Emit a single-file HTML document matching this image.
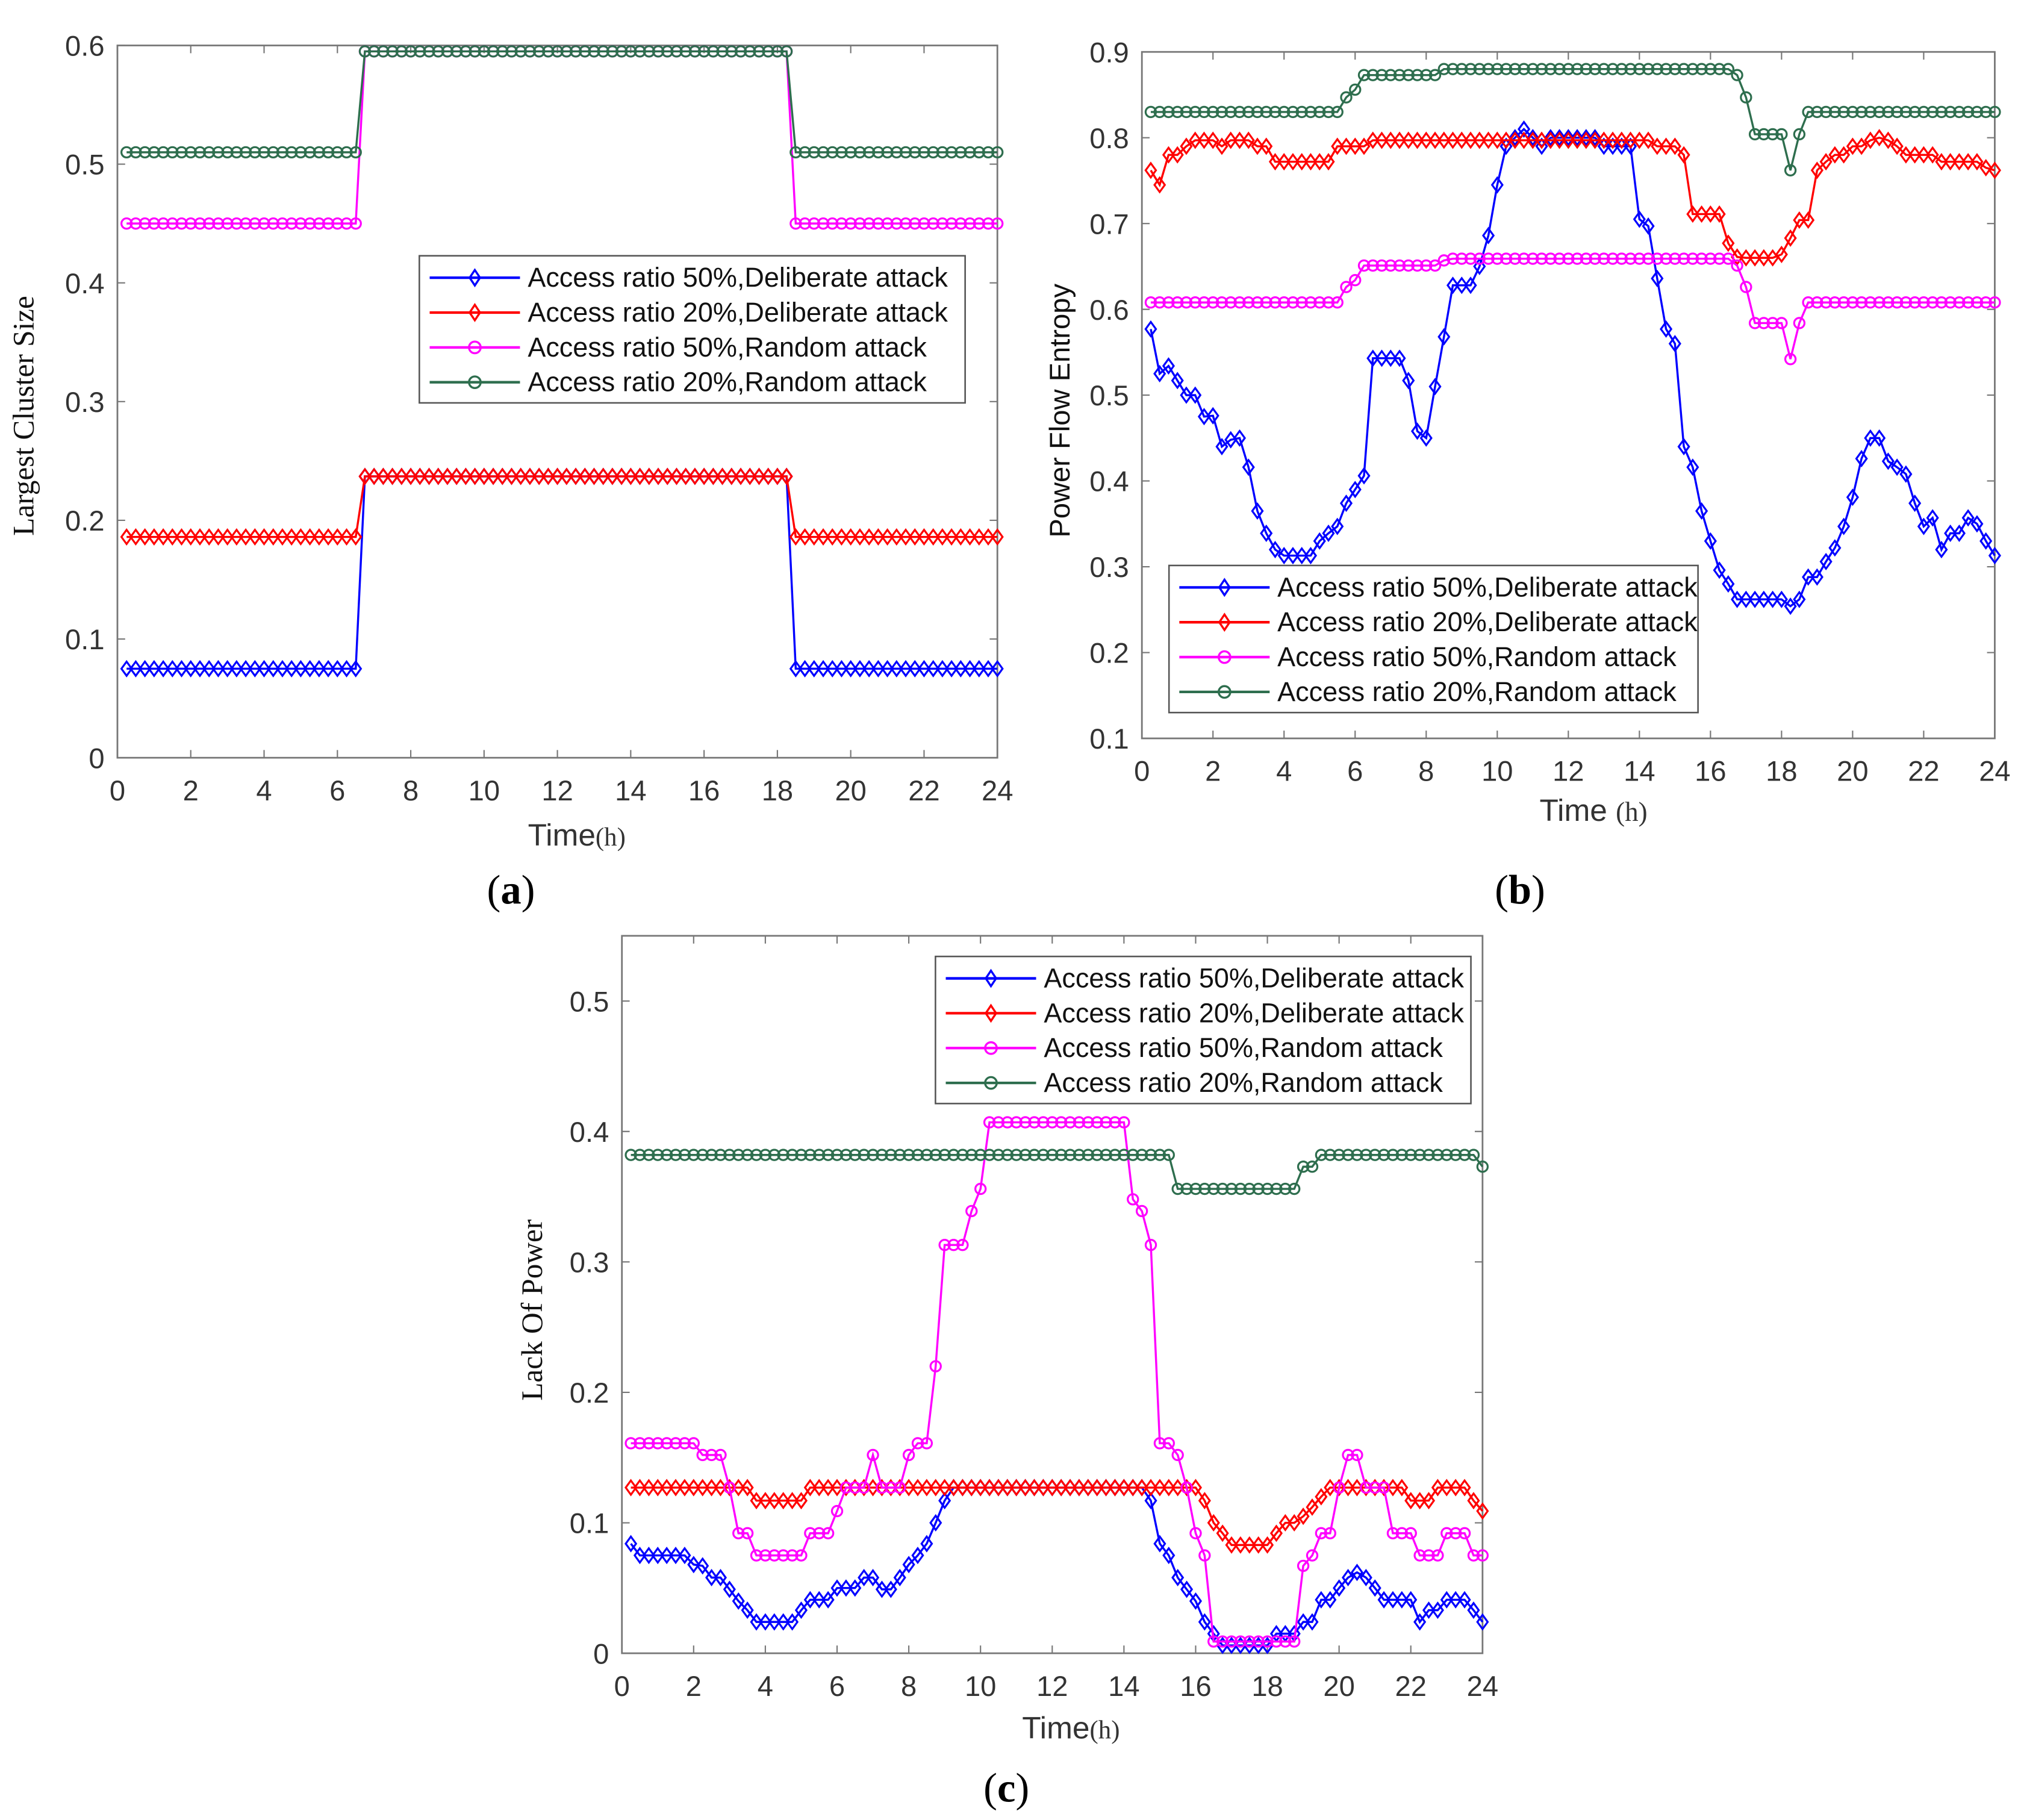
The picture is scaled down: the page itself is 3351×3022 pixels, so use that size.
<!DOCTYPE html>
<html><head><meta charset="utf-8"><style>
html,body{margin:0;padding:0;background:#fff;}
svg{display:block;}
.tk{font-family:"Liberation Sans",sans-serif;font-size:22px;fill:#333;}
.lg{font-family:"Liberation Sans",sans-serif;font-size:21px;fill:#111;}
.sf{font-family:"Liberation Serif",serif;}
</style></head><body>
<svg id="fig" width="3351" height="3022" viewBox="0 0 1564 1410" xmlns="http://www.w3.org/2000/svg">
<rect x="0" y="0" width="1564" height="1410" fill="#fff"/>
</svg>
<script>
// time axis
const times=[];for(let i=1;i<=96;i++)times.push(i*0.25);
const xTicks=[0,2,4,6,8,10,12,14,16,18,20,22,24];
const yTicksA=[0,0.1,0.2,0.3,0.4,0.5,0.6];
const yTicksB=[0.1,0.2,0.3,0.4,0.5,0.6,0.7,0.8,0.9];
const yTicksC=[0,0.1,0.2,0.3,0.4,0.5];
const seriesNames=["Access ratio 50%,Deliberate attack","Access ratio 20%,Deliberate attack","Access ratio 50%,Random attack","Access ratio 20%,Random attack"];

// Panel (a)
const a50Del=[.075,.075,.075,.075,.075,.075,.075,.075,.075,.075,.075,.075,.075,.075,.075,.075,.075,.075,.075,.075,.075,.075,.075,.075,.075,.075,
.237,.237,.237,.237,.237,.237,.237,.237,.237,.237,.237,.237,.237,.237,.237,.237,.237,.237,.237,.237,.237,.237,.237,.237,.237,.237,.237,.237,.237,.237,.237,.237,.237,.237,.237,.237,.237,.237,.237,.237,.237,.237,.237,.237,.237,.237,.237,
.075,.075,.075,.075,.075,.075,.075,.075,.075,.075,.075,.075,.075,.075,.075,.075,.075,.075,.075,.075,.075,.075,.075];
const a20Del=[.186,.186,.186,.186,.186,.186,.186,.186,.186,.186,.186,.186,.186,.186,.186,.186,.186,.186,.186,.186,.186,.186,.186,.186,.186,.186,
.237,.237,.237,.237,.237,.237,.237,.237,.237,.237,.237,.237,.237,.237,.237,.237,.237,.237,.237,.237,.237,.237,.237,.237,.237,.237,.237,.237,.237,.237,.237,.237,.237,.237,.237,.237,.237,.237,.237,.237,.237,.237,.237,.237,.237,.237,.237,
.186,.186,.186,.186,.186,.186,.186,.186,.186,.186,.186,.186,.186,.186,.186,.186,.186,.186,.186,.186,.186,.186,.186];
const a50Rnd=[.45,.45,.45,.45,.45,.45,.45,.45,.45,.45,.45,.45,.45,.45,.45,.45,.45,.45,.45,.45,.45,.45,.45,.45,.45,.45,
.595,.595,.595,.595,.595,.595,.595,.595,.595,.595,.595,.595,.595,.595,.595,.595,.595,.595,.595,.595,.595,.595,.595,.595,.595,.595,.595,.595,.595,.595,.595,.595,.595,.595,.595,.595,.595,.595,.595,.595,.595,.595,.595,.595,.595,.595,.595,
.45,.45,.45,.45,.45,.45,.45,.45,.45,.45,.45,.45,.45,.45,.45,.45,.45,.45,.45,.45,.45,.45,.45];
const a20Rnd=[.51,.51,.51,.51,.51,.51,.51,.51,.51,.51,.51,.51,.51,.51,.51,.51,.51,.51,.51,.51,.51,.51,.51,.51,.51,.51,
.595,.595,.595,.595,.595,.595,.595,.595,.595,.595,.595,.595,.595,.595,.595,.595,.595,.595,.595,.595,.595,.595,.595,.595,.595,.595,.595,.595,.595,.595,.595,.595,.595,.595,.595,.595,.595,.595,.595,.595,.595,.595,.595,.595,.595,.595,.595,
.51,.51,.51,.51,.51,.51,.51,.51,.51,.51,.51,.51,.51,.51,.51,.51,.51,.51,.51,.51,.51,.51,.51];

// Panel (b)
const b50Del=[.577,.525,.534,.517,.50,.50,.475,.476, .44,.448,.45,.416,.365,.339,.32,.313,
.313,.313,.313,.33,.339,.347,.374,.39, .406,.543,.543,.543,.543,.517,.458,.45,
.51,.568,.628,.628,.628,.65,.686,.745, .79,.80,.81,.80,.79,.80,.80,.80,
.80,.80,.80,.79,.79,.79,.79,.705, .697,.636,.577,.56,.44,.416,.365,.33,
.296,.28,.262,.262,.262,.262,.262,.262, .254,.262,.288,.288,.306,.322,.347,.381,
.426,.45,.45,.423,.416,.408,.374,.347, .357,.32,.339,.339,.357,.35,.33,.313];
const b20Del=[.762,.745,.78,.78,.79,.797,.797,.797, .79,.797,.797,.797,.79,.79,.772,.772,
.772,.772,.772,.772,.772,.79,.79,.79, .79,.797,.797,.797,.797,.797,.797,.797,
.797,.797,.797,.797,.797,.797,.797,.797, .797,.797,.797,.797,.797,.797,.797,.797,
.797,.797,.797,.797,.797,.797,.797,.797, .797,.79,.79,.79,.78,.711,.711,.711,
.711,.677,.661,.66,.66,.66,.66,.664, .683,.704,.704,.762,.772,.78,.78,.79,
.79,.797,.80,.797,.79,.78,.78,.78, .78,.772,.772,.772,.772,.772,.765,.762];
const b50Rnd=[.608,.608,.608,.608,.608,.608,.608,.608, .608,.608,.608,.608,.608,.608,.608,.608,
.608,.608,.608,.608,.608,.608,.626,.634, .651,.651,.651,.651,.651,.651,.651,.651,
.651,.657,.659,.659,.659,.659,.659,.659, .659,.659,.659,.659,.659,.659,.659,.659,
.659,.659,.659,.659,.659,.659,.659,.659, .659,.659,.659,.659,.659,.659,.659,.659,
.659,.659,.651,.626,.584,.584,.584,.584, .542,.584,.608,.608,.608,.608,.608,.608,
.608,.608,.608,.608,.608,.608,.608,.608, .608,.608,.608,.608,.608,.608,.608,.608];
const b20Rnd=[.83,.83,.83,.83,.83,.83,.83,.83, .83,.83,.83,.83,.83,.83,.83,.83,
.83,.83,.83,.83,.83,.83,.847,.856, .873,.873,.873,.873,.873,.873,.873,.873,
.873,.88,.88,.88,.88,.88,.88,.88, .88,.88,.88,.88,.88,.88,.88,.88,
.88,.88,.88,.88,.88,.88,.88,.88, .88,.88,.88,.88,.88,.88,.88,.88,
.88,.88,.873,.847,.804,.804,.804,.804, .762,.804,.83,.83,.83,.83,.83,.83,
.83,.83,.83,.83,.83,.83,.83,.83, .83,.83,.83,.83,.83,.83,.83,.83];

// Panel (c)
const c50Del=[.084,.075,.075,.075,.075,.075,.075,.068, .067,.058,.058,.049,.040,.033,.024,.024,
.024,.024,.024,.033,.041,.041,.041,.050, .050,.050,.058,.058,.049,.049,.058,.068,
.075,.084,.10,.117,.127,.127,.127,.127, .127,.127,.127,.127,.127,.127,.127,.127,
.127,.127,.127,.127,.127,.127,.127,.127, .127,.127,.117,.084,.075,.058,.049,.040,
.024,.015,.006,.006,.006,.006,.006,.006, .015,.015,.015,.024,.024,.041,.041,.050,
.058,.062,.058,.050,.041,.041,.041,.041, .024,.033,.033,.041,.041,.041,.033,.024];
const c20Del=[.127,.127,.127,.127,.127,.127,.127,.127, .127,.127,.127,.127,.127,.127,.117,.117,
.117,.117,.117,.117,.127,.127,.127,.127, .127,.127,.127,.127,.127,.127,.127,.127,
.127,.127,.127,.127,.127,.127,.127,.127, .127,.127,.127,.127,.127,.127,.127,.127,
.127,.127,.127,.127,.127,.127,.127,.127, .127,.127,.127,.127,.127,.127,.127,.127,
.117,.10,.092,.083,.083,.083,.083,.083, .092,.10,.10,.105,.112,.12,.127,.127,
.127,.127,.127,.127,.127,.127,.127,.117, .117,.117,.127,.127,.127,.127,.117,.109];
const c50Rnd=[.161,.161,.161,.161,.161,.161,.161,.161, .152,.152,.152,.127,.092,.092,.075,.075,
.075,.075,.075,.075,.092,.092,.092,.109, .127,.127,.127,.152,.127,.127,.127,.152,
.161,.161,.22,.313,.313,.313,.339,.356, .407,.407,.407,.407,.407,.407,.407,.407,
.407,.407,.407,.407,.407,.407,.407,.407, .348,.339,.313,.161,.161,.152,.127,.092,
.075,.009,.009,.009,.009,.009,.009,.009, .009,.009,.009,.067,.075,.092,.092,.127,
.152,.152,.127,.127,.127,.092,.092,.092, .075,.075,.075,.092,.092,.092,.075,.075];
const c20Rnd=[.382,.382,.382,.382,.382,.382,.382,.382, .382,.382,.382,.382,.382,.382,.382,.382,
.382,.382,.382,.382,.382,.382,.382,.382, .382,.382,.382,.382,.382,.382,.382,.382,
.382,.382,.382,.382,.382,.382,.382,.382, .382,.382,.382,.382,.382,.382,.382,.382,
.382,.382,.382,.382,.382,.382,.382,.382, .382,.382,.382,.382,.382,.356,.356,.356,
.356,.356,.356,.356,.356,.356,.356,.356, .356,.356,.356,.373,.373,.382,.382,.382,
.382,.382,.382,.382,.382,.382,.382,.382, .382,.382,.382,.382,.382,.382,.382,.373];

const NS="http://www.w3.org/2000/svg";
const svg=document.getElementById('fig');
const colors=["#0000ff","#ff0000","#ff00ff","#2e6e4e"];
const shapes=["d","d","o","o"];
function mk(tag,parent){const e=document.createElementNS(NS,tag);parent.appendChild(e);return e;}

function panel(cfg){
  const g=mk('g',svg);
  
  
  const L=cfg.x0,R=cfg.x1,T=cfg.y0,B=cfg.y1;
  const sx=t=>L+(t-0)/24*(R-L);
  const sy=v=>B-(v-cfg.ymin)/(cfg.ymax-cfg.ymin)*(B-T);
  const box=mk('rect',g);
  box.setAttribute('x',L);box.setAttribute('y',T);box.setAttribute('width',R-L);box.setAttribute('height',B-T);
  box.setAttribute('fill','none');box.setAttribute('stroke','#777');box.setAttribute('stroke-width','1.3');
  
  
  xTicks.forEach(t=>{
    const x=sx(t);
    const l=mk('path',g);
    l.setAttribute('d',`M${x},${B}V${B-6}M${x},${T}V${T+6}`);
    l.setAttribute('stroke','#777');l.setAttribute('stroke-width','1');
    
    
    const tx=mk('text',g);
    tx.setAttribute('x',x);tx.setAttribute('y',B+33);tx.setAttribute('text-anchor','middle');tx.setAttribute('class','tk');
    tx.textContent=t;
    
    
  });
  cfg.yticks.forEach(v=>{
    const y=sy(v);
    const l=mk('path',g);
    l.setAttribute('d',`M${L},${y}H${L+6}M${R},${y}H${R-6}`);
    l.setAttribute('stroke','#777');l.setAttribute('stroke-width','1');
    
    
    const tx=mk('text',g);
    tx.setAttribute('x',L-10);tx.setAttribute('y',y+8);tx.setAttribute('text-anchor','end');tx.setAttribute('class','tk');
    tx.textContent=String(v);
    
    
  });
  cfg.series.forEach((vals,si)=>{
    const sg=mk('g',g);
    
    
    const pl=mk('polyline',sg);
    pl.setAttribute('points',vals.map((v,i)=>sx(times[i])+','+sy(v)).join(' '));
    pl.setAttribute('fill','none');pl.setAttribute('stroke',colors[si]);pl.setAttribute('stroke-width','1.6');
    
    
    vals.forEach((v,i)=>{
      const x=sx(times[i]),y=sy(v);
      let m;
      if(shapes[si]==='d'){m=mk('path',sg);m.setAttribute('d',`M${x},${y-5.5}L${x+4},${y}L${x},${y+5.5}L${x-4},${y}Z`);}
      else{m=mk('circle',sg);m.setAttribute('cx',x);m.setAttribute('cy',y);m.setAttribute('r',4);}
      m.setAttribute('fill','none');m.setAttribute('stroke',colors[si]);m.setAttribute('stroke-width','1.5');
      
      
    });
  });
  // legend
  const lg=mk('g',g);
  
  
  const lb=mk('rect',lg);
  lb.setAttribute('x',cfg.lx);lb.setAttribute('y',cfg.ly);lb.setAttribute('width',cfg.lw);lb.setAttribute('height',114);
  lb.setAttribute('fill','#fff');lb.setAttribute('stroke','#555');lb.setAttribute('stroke-width','1.2');
  
  
  seriesNames.forEach((n,si)=>{
    const y=cfg.ly+17+si*27;
    const eg=mk('g',lg);
    
    
    const ln=mk('path',eg);
    ln.setAttribute('d',`M${cfg.lx+8},${y}H${cfg.lx+78}`);ln.setAttribute('stroke',colors[si]);ln.setAttribute('stroke-width','2');
    const cx=cfg.lx+43;let m;
    if(shapes[si]==='d'){m=mk('path',eg);m.setAttribute('d',`M${cx},${y-6}L${cx+4},${y}L${cx},${y+6}L${cx-4},${y}Z`);}
    else{m=mk('circle',eg);m.setAttribute('cx',cx);m.setAttribute('cy',y);m.setAttribute('r',4.5);}
    m.setAttribute('fill','none');m.setAttribute('stroke',colors[si]);m.setAttribute('stroke-width','1.6');
    const t=mk('text',eg);
    t.setAttribute('x',cfg.lx+84);t.setAttribute('y',y+7);t.setAttribute('class','lg');
    t.textContent=n;
  });
  return g;
}

panel({name:'chart-a',x0:91,x1:773,y0:35,y1:587,ymin:0,ymax:0.6,yticks:yTicksA,series:[a50Del,a20Del,a50Rnd,a20Rnd],lx:325,ly:198,lw:423});
panel({name:'chart-b',x0:885,x1:1546,y0:40,y1:572,ymin:0.1,ymax:0.9,yticks:yTicksB,series:[b50Del,b20Del,b50Rnd,b20Rnd],lx:906,ly:438,lw:410});
panel({name:'chart-c',x0:482,x1:1149,y0:725,y1:1281,ymin:0,ymax:0.55,yticks:yTicksC,series:[c50Del,c20Del,c50Rnd,c20Rnd],lx:725,ly:741,lw:415});

function txt(x,y,str,cls,name,extra){
  const t=mk('text',svg);
  t.setAttribute('x',x);t.setAttribute('y',y);t.setAttribute('class',cls);
  if(extra)for(const k in extra)t.setAttribute(k,extra[k]);
  t.innerHTML=str;
  return t;
}
let t;
t=txt(447,655,'Time<tspan class="sf" style="font-size:20px">(h)</tspan>','tk','',{'text-anchor':'middle','style':'font-size:24px'});


t=txt(1235,636,'Time <tspan class="sf" style="font-size:21px">(h)</tspan>','tk','',{'text-anchor':'middle','style':'font-size:24px'});


t=txt(830,1347,'Time<tspan class="sf" style="font-size:20px">(h)</tspan>','tk','',{'text-anchor':'middle','style':'font-size:24px'});


t=txt(26,322,'Largest Cluster Size','sf','',{'text-anchor':'middle','transform':'rotate(-90 26 322)','style':'font-size:23px;fill:#111'});


t=txt(829,318,'Power Flow Entropy','tk','',{'text-anchor':'middle','transform':'rotate(-90 829 318)','style':'font-size:22px;fill:#111'});


t=txt(420,1015,'Lack Of Power','sf','',{'text-anchor':'middle','transform':'rotate(-90 420 1015)','style':'font-size:23px;fill:#111'});


t=txt(396,700,'(<tspan font-weight="bold">a</tspan>)','sf','',{'text-anchor':'middle','style':'font-size:32px;fill:#000'});


t=txt(1178,700,'(<tspan font-weight="bold">b</tspan>)','sf','',{'text-anchor':'middle','style':'font-size:32px;fill:#000'});


t=txt(780,1396,'(<tspan font-weight="bold">c</tspan>)','sf','',{'text-anchor':'middle','style':'font-size:32px;fill:#000'});


</script>
</body></html>
